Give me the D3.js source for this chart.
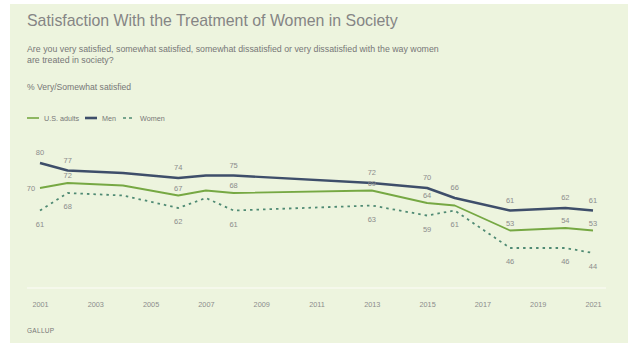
<!DOCTYPE html>
<html>
<head>
<meta charset="utf-8">
<script src="https://cdn.jsdelivr.net/npm/d3@7"></script>
<style>
  body { margin: 0; background: #ffffff; }
  svg { display: block; font-family: "Liberation Sans", Arial, sans-serif; }
</style>
</head>
<body>
<svg id="chart" width="628" height="343"></svg>
<script>
// survey years and values (% very/somewhat satisfied)
const years = [2001, 2002, 2004, 2006, 2007, 2008, 2013, 2015, 2016, 2018, 2020, 2021]
const usAdults = [70, 72, 71, 67, 69, 68, 69, 64, 63, 53, 54, 53]
const men = [80, 77, 76, 74, 75, 75, 72, 70, 66, 61, 62, 61]
const women = [61, 68, 67, 62, 66, 61, 63, 59, 61, 46, 46, 44]
// which years carry a value label
const labelYears = [2001, 2002, 2006, 2008, 2013, 2015, 2016, 2018, 2020, 2021]
const usLabelYears = [2001, 2002, 2006, 2008, 2013, 2015, 2018, 2020, 2021]
const tickYears = [2001, 2003, 2005, 2007, 2009, 2011, 2013, 2015, 2017, 2019, 2021]

const bgColor = '#edf4de'
const textColor = '#8c8c8c'
const usColor = '#76a843'
const menColor = '#3e4e6a'
const womenColor = '#4f8a73'

const svg = d3.select('#chart')

svg.append('rect')
    .attr('x', 10).attr('y', 4)
    .attr('width', 618).attr('height', 339)
    .style('fill', bgColor)

const x = d3.scaleLinear().domain([2001, 2021]).range([40, 593])
const y = d3.scaleLinear().domain([30, 90]).range([288, 138])

// header texts
svg.append('text')
    .attr('x', 27).attr('y', 26)
    .style('font-size', '15.9px')
    .style('fill', '#858585')
    .text('Satisfaction With the Treatment of Women in Society')

const subLines = ['Are you very satisfied, somewhat satisfied, somewhat dissatisfied or very dissatisfied with the way women',
    'are treated in society?']
subLines.forEach(function(d, i){
    svg.append('text')
        .attr('x', 27).attr('y', 52 + i * 11)
        .style('font-size', '8.8px')
        .style('fill', '#777')
        .text(d)
})

svg.append('text')
    .attr('x', 27).attr('y', 90)
    .style('font-size', '8.6px')
    .style('fill', '#777')
    .text('% Very/Somewhat satisfied')

// legend
const legendItems = [
    {name: 'U.S. adults', color: usColor, width: 1.6, dash: null, x: 27},
    {name: 'Men', color: menColor, width: 2.6, dash: null, x: 85},
    {name: 'Women', color: womenColor, width: 1.6, dash: '3,3', x: 123}
]
legendItems.forEach(function(d){
    svg.append('line')
        .attr('x1', d.x).attr('x2', d.x + 12)
        .attr('y1', 118).attr('y2', 118)
        .style('stroke', d.color)
        .style('stroke-width', d.width)
        .style('stroke-dasharray', d.dash)
    svg.append('text')
        .attr('x', d.x + 17).attr('y', 120.5)
        .style('font-size', '7.2px')
        .style('fill', '#777')
        .text(d.name)
})

// baseline
svg.append('line')
    .attr('x1', 27).attr('x2', 606)
    .attr('y1', 288).attr('y2', 288)
    .style('stroke', '#f7faef')
    .style('stroke-width', 1.5)

const xAxis = d3.axisBottom(x)
    .tickValues(tickYears)
    .tickFormat(d3.format('d'))
    .tickSize(0)
    .tickPadding(0)

const axisG = svg.append('g')
    .attr('transform', 'translate(0,302)')
    .call(xAxis)
axisG.select('.domain').remove()
axisG.selectAll('text')
    .style('font-size', '7.3px')
    .style('font-family', '"Liberation Sans", Arial, sans-serif')
    .style('fill', textColor)

// series lines
const series = [
    {key: 'us', values: usAdults, color: usColor, width: 1.8, dash: null},
    {key: 'women', values: women, color: womenColor, width: 1.8, dash: '2.5,4'},
    {key: 'men', values: men, color: menColor, width: 2.4, dash: null}
]

const line = d3.line()
    .x(d => x(d.year))
    .y(d => y(d.value))

series.forEach(function(s){
    const points = years.map((yr, i) => ({year: yr, value: s.values[i]}))
    svg.append('path')
        .datum(points)
        .attr('d', line)
        .style('fill', 'none')
        .style('stroke', s.color)
        .style('stroke-width', s.width)
        .style('stroke-dasharray', s.dash)
        .style('stroke-linejoin', 'round')
})

// value labels
function addLabels(values, yearsToLabel, dy, firstDx, firstDy){
    yearsToLabel.forEach(function(yr){
        const i = years.indexOf(yr)
        let lx = x(yr)
        let ly = y(values[i]) + dy
        if (yr == 2001 && firstDx != null){
            lx = lx + firstDx
            ly = y(values[i]) + firstDy
        }
        svg.append('text')
            .attr('x', lx).attr('y', ly)
            .attr('text-anchor', 'middle')
            .style('font-size', '7.5px')
            .style('fill', textColor)
            .text(values[i])
    })
}

addLabels(men, labelYears, -8, null, null)
addLabels(usAdults, usLabelYears, -5, -9, 2.5)
addLabels(women, labelYears, 16, null, null)

svg.append('text')
    .attr('x', 27).attr('y', 333)
    .style('font-size', '6.5px')
    .style('fill', '#777')
    .style('letter-spacing', '0.3px')
    .text('GALLUP')
</script>
</body>
</html>
